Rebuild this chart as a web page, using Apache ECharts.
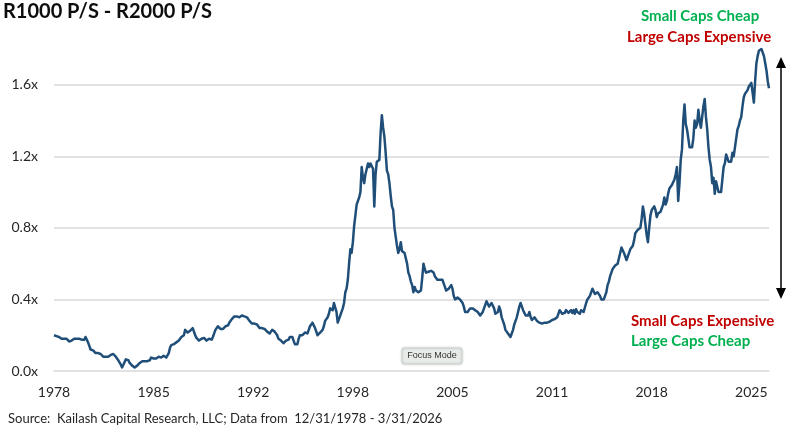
<!DOCTYPE html>
<html>
<head>
<meta charset="utf-8">
<script src="https://cdn.jsdelivr.net/npm/echarts@6/dist/echarts.min.js"></script>
<style>
html,body{margin:0;padding:0;background:#fff;}
#chart{width:789px;height:432px;}
</style>
</head>
<body>
<div id="chart"></div>
<script>
// Monthly data, 12/1978 .. 3/2026
const startYear = 1978, startMonth = 12;
const ratio = [
// Dec 1978
0.20,
// 1979
0.20,0.195,0.19,0.19,0.185,0.18,0.175,0.18,0.185,0.18,0.17,0.165,
// 1980
0.165,0.17,0.175,0.18,0.18,0.18,0.185,0.18,0.18,0.175,0.17,0.175,
// 1981
0.19,0.18,0.16,0.14,0.12,0.11,0.115,0.11,0.10,0.105,0.10,0.10,
// 1982
0.095,0.09,0.08,0.085,0.08,0.075,0.08,0.085,0.09,0.10,0.095,0.09,
// 1983
0.08,0.07,0.06,0.05,0.035,0.02,0.03,0.05,0.065,0.07,0.06,0.045,
// 1984
0.035,0.03,0.025,0.02,0.025,0.03,0.035,0.045,0.05,0.055,0.05,0.055,
// 1985
0.06,0.055,0.05,0.06,0.075,0.08,0.07,0.065,0.07,0.075,0.08,0.08,
// 1986
0.075,0.08,0.085,0.08,0.075,0.085,0.10,0.13,0.145,0.14,0.15,0.155,
// 1987
0.16,0.165,0.17,0.18,0.19,0.185,0.20,0.23,0.225,0.215,0.22,0.225,
// 1988
0.235,0.24,0.23,0.20,0.185,0.18,0.17,0.175,0.18,0.19,0.185,0.18,
// 1989
0.17,0.175,0.18,0.18,0.175,0.19,0.21,0.23,0.24,0.25,0.24,0.235,
// 1990
0.23,0.235,0.24,0.25,0.26,0.255,0.27,0.28,0.29,0.30,0.305,0.31,
// 1991
0.305,0.30,0.30,0.305,0.31,0.31,0.305,0.31,0.30,0.29,0.28,0.27,
// 1992
0.265,0.26,0.265,0.27,0.26,0.25,0.24,0.245,0.24,0.24,0.235,0.23,
// 1993
0.22,0.215,0.21,0.22,0.23,0.225,0.22,0.21,0.20,0.18,0.17,0.17,
// 1994
0.165,0.155,0.16,0.17,0.165,0.175,0.19,0.20,0.19,0.17,0.15,0.14,
// 1995
0.15,0.18,0.20,0.21,0.20,0.205,0.215,0.22,0.21,0.23,0.25,0.26,
// 1996
0.27,0.26,0.24,0.22,0.20,0.205,0.215,0.22,0.23,0.25,0.28,0.29,
// 1997
0.30,0.32,0.35,0.36,0.34,0.38,0.39,0.33,0.27,0.28,0.31,0.33,
// 1998
0.35,0.38,0.44,0.46,0.51,0.60,0.68,0.66,0.72,0.81,0.87,0.93,
// 1999
0.95,0.97,1.00,1.14,1.08,1.05,1.10,1.11,1.16,1.14,1.16,1.15,
// 2000
1.13,0.92,1.10,1.17,1.18,1.18,1.33,1.43,1.36,1.31,1.22,1.12,
// 2001
1.10,1.05,0.98,0.92,0.90,0.80,0.75,0.70,0.66,0.68,0.72,0.67,
// 2002
0.66,0.66,0.65,0.60,0.55,0.53,0.50,0.48,0.44,0.47,0.45,0.44,
// 2003
0.44,0.44,0.45,0.52,0.60,0.57,0.55,0.55,0.555,0.55,0.56,0.55,
// 2004
0.55,0.53,0.53,0.51,0.52,0.51,0.50,0.51,0.49,0.47,0.45,0.46,
// 2005
0.46,0.47,0.48,0.46,0.42,0.40,0.40,0.41,0.40,0.40,0.39,0.38,
// 2006
0.36,0.33,0.32,0.33,0.34,0.35,0.36,0.35,0.34,0.34,0.335,0.33,
// 2007
0.32,0.31,0.32,0.33,0.35,0.37,0.39,0.38,0.36,0.37,0.38,0.37,
// 2008
0.35,0.32,0.31,0.33,0.36,0.34,0.30,0.28,0.26,0.23,0.22,0.21,
// 2009
0.20,0.19,0.20,0.23,0.26,0.28,0.30,0.33,0.36,0.38,0.37,0.34,
// 2010
0.33,0.31,0.32,0.31,0.33,0.30,0.285,0.29,0.30,0.29,0.28,0.27,
// 2011
0.27,0.26,0.265,0.255,0.27,0.275,0.27,0.26,0.275,0.28,0.285,0.28,
// 2012
0.29,0.295,0.30,0.32,0.34,0.33,0.32,0.33,0.325,0.34,0.33,0.325,
// 2013
0.33,0.34,0.325,0.34,0.32,0.345,0.33,0.34,0.32,0.34,0.345,0.33,
// 2014
0.34,0.38,0.40,0.41,0.42,0.44,0.46,0.45,0.43,0.42,0.44,0.43,
// 2015
0.42,0.40,0.41,0.40,0.42,0.44,0.48,0.50,0.53,0.55,0.57,0.58,
// 2016
0.59,0.60,0.60,0.63,0.66,0.69,0.68,0.66,0.64,0.62,0.64,0.66,
// 2017
0.68,0.68,0.70,0.73,0.77,0.78,0.79,0.78,0.80,0.85,0.92,0.88,
// 2018
0.82,0.76,0.72,0.80,0.87,0.90,0.91,0.92,0.90,0.86,0.88,0.87,
// 2019
0.89,0.90,0.93,0.97,0.93,0.95,0.99,1.02,1.03,1.04,1.05,1.07,
// 2020
1.10,1.14,0.95,1.05,1.18,1.24,1.40,1.49,1.38,1.35,1.30,1.25,
// 2021
1.25,1.25,1.30,1.40,1.36,1.38,1.46,1.40,1.36,1.42,1.48,1.52,
// 2022
1.42,1.35,1.25,1.18,1.14,1.05,1.08,0.99,1.06,1.03,1.00,1.01,
// 2023
1.00,1.07,1.14,1.16,1.21,1.20,1.17,1.18,1.17,1.22,1.20,1.25,
// 2024
1.30,1.35,1.37,1.40,1.42,1.48,1.53,1.55,1.56,1.57,1.59,1.60,
// 2025
1.61,1.60,1.50,1.62,1.72,1.76,1.79,1.80,1.80,1.79,1.76,1.72,
// 2026
1.68,1.62,1.58
];
const xTickLabels = ['1978','1985','1992','1998','2005','2011','2018','2025'];
const yTicks = [0, 0.4, 0.8, 1.2, 1.6];
const titleText = 'R1000 P/S - R2000 P/S';
const sourceText = 'Source:  Kailash Capital Research, LLC; Data from  12/31/1978 - 3/31/2026';
const topNotes = ['Small Caps Cheap', 'Large Caps Expensive'];
const bottomNotes = ['Small Caps Expensive', 'Large Caps Cheap'];

const months = [];
for (let i = 0; i < ratio.length; i++) {
  const m0 = (startMonth - 1) + i;
  const y = startYear + Math.floor(m0 / 12);
  const m = (m0 % 12) + 1;
  months.push(y + '-' + (m < 10 ? '0' + m : m));
}
const LABEL_STEP = 79;

const chart = echarts.init(document.getElementById('chart'), null, {renderer: 'canvas'});
const FONT = 'Lato, "Liberation Sans", sans-serif';
const GREEN = '#00B050', RED = '#C00000';

chart.setOption({
  animation: false,
  backgroundColor: '#ffffff',
  grid: {left: 54, right: 20, top: 40, bottom: 61, outerBoundsMode: 'none'},
  xAxis: {
    type: 'category',
    data: months,
    boundaryGap: false,
    axisLine: {lineStyle: {color: '#d9d9d9', width: 1.5}},
    axisTick: {show: false},
    splitLine: {show: false},
    axisLabel: {
      interval: LABEL_STEP - 1,
      margin: 14,
      color: '#262626',
      fontFamily: FONT,
      fontSize: 14,
      formatter: function (v, idx) {
        const k = Math.round(idx / LABEL_STEP);
        return xTickLabels[k] !== undefined ? xTickLabels[k] : '';
      }
    }
  },
  yAxis: {
    type: 'value',
    min: 0,
    max: 1.85,
    interval: 0.4,
    axisLine: {show: false},
    axisTick: {show: false},
    splitLine: {show: true, showMaxLine: false, showMinLine: false, lineStyle: {color: '#d9d9d9', width: 1.5}},
    axisLabel: {
      showMaxLabel: false,
      margin: 16,
      color: '#262626',
      fontFamily: FONT,
      fontSize: 14,
      formatter: function (v) {
        for (const t of yTicks) { if (Math.abs(v - t) < 1e-6) return t.toFixed(1) + 'x'; }
        return '';
      }
    }
  },
  series: [{
    type: 'line',
    data: ratio,
    showSymbol: false,
    symbol: 'none',
    lineStyle: {color: '#1F4E79', width: 2.5, join: 'round'},
    z: 3
  }],
  graphic: [
    {type: 'text', left: 3, top: 2, style: {text: titleText, font: 'bold 20px ' + FONT, fill: '#0d0d0d'}},
    {type: 'text', left: 641, top: 9, style: {text: topNotes[0], font: 'bold 15px ' + FONT, fill: GREEN}},
    {type: 'text', left: 627, top: 30, style: {text: topNotes[1], font: 'bold 15px ' + FONT, fill: RED}},
    {type: 'text', left: 631, top: 314, style: {text: bottomNotes[0], font: 'bold 15px ' + FONT, fill: RED}},
    {type: 'text', left: 631, top: 334, style: {text: bottomNotes[1], font: 'bold 15px ' + FONT, fill: GREEN}},
    {type: 'text', left: 8, top: 412, style: {text: sourceText, font: '13px ' + FONT, fill: '#262626'}},
    // double-headed arrow
    {type: 'line', shape: {x1: 781, y1: 66, x2: 781, y2: 290}, style: {stroke: '#000', lineWidth: 1.5}},
    {type: 'polygon', shape: {points: [[781, 57], [776, 68], [786, 68]]}, style: {fill: '#000'}},
    {type: 'polygon', shape: {points: [[781, 299], [776, 288], [786, 288]]}, style: {fill: '#000'}},
    // Focus Mode overlay button
    {type: 'rect', shape: {x: 402, y: 348, width: 60, height: 16, r: 2}, style: {fill: '#e8ece9', stroke: '#c9cdca', lineWidth: 1, shadowBlur: 3, shadowColor: 'rgba(0,0,0,0.15)'}, z: 10},
    {type: 'text', x: 432, y: 356, style: {text: 'Focus Mode', font: '9px "Liberation Sans", sans-serif', fill: '#333', align: 'center', verticalAlign: 'middle'}, z: 11}
  ]
});
</script>
</body>
</html>
